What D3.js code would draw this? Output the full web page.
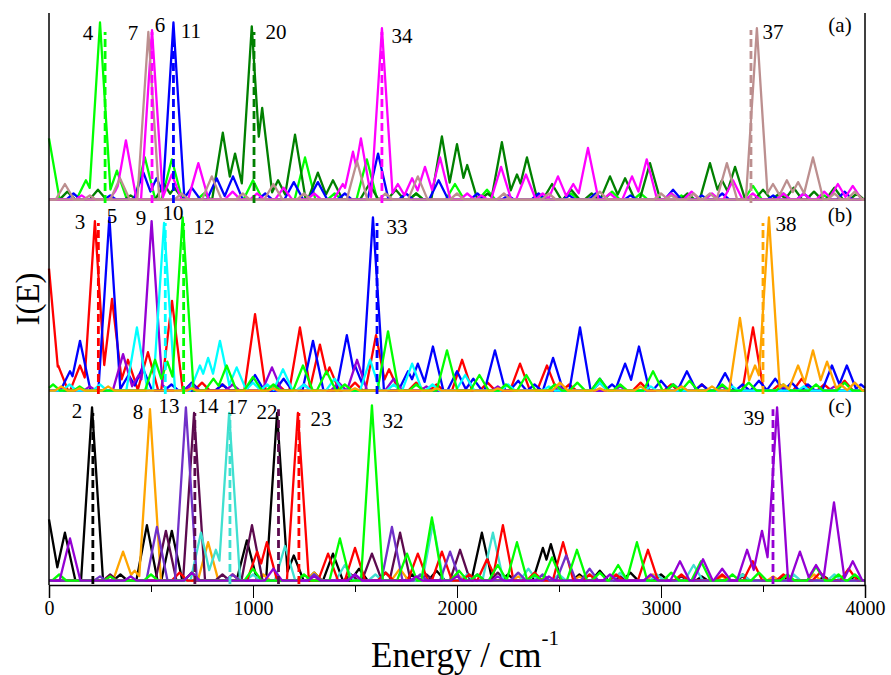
<!DOCTYPE html>
<html>
<head>
<meta charset="utf-8">
<script src="https://cdnjs.cloudflare.com/ajax/libs/d3/7.8.5/d3.min.js"></script>
<style>
  body { margin: 0; background: #fff; }
  svg text { font-family: "Liberation Serif", "Times New Roman", Times, "DejaVu Serif", serif; }
</style>
</head>
<body>
<div id="chart"></div>
<script>
// peak lists [energy cm-1, relative intensity], one per mode

// panel (a)
let s4 = [[0, 0.34], [181, 0.12], [250, 0.95], [333, 0.17], [470, 0.24], [602, 0.23], [760, 0.05], [1000, 0.12], [1255, 0.24], [1400, 0.05], [1558, 0.23], [1800, 0.05], [1990, 0.1], [2147, 0.07], [2400, 0.04], [2560, 0.05], [2760, 0.06], [2900, 0.05], [3100, 0.04], [3451, 0.09], [3600, 0.05], [3800, 0.04]];
let s6 = [[160, 0.04], [337, 0.08], [377, 0.33], [505, 0.91], [602, 0.15], [732, 0.21], [900, 0.06], [1020, 0.05], [1150, 0.08], [1300, 0.05]];
let s7 = [[78, 0.1], [200, 0.04], [348, 0.13], [487, 0.9], [650, 0.05], [798, 0.14], [950, 0.05], [1100, 0.1], [1250, 0.05], [1510, 0.22], [1650, 0.05], [1808, 0.14], [2000, 0.05], [2230, 0.05], [2450, 0.05], [2700, 0.06], [3000, 0.05], [3050, 0.04]];
let s11 = [[120, 0.05], [300, 0.04], [463, 0.16], [527, 0.13], [610, 0.95], [700, 0.08], [822, 0.13], [902, 0.14], [1060, 0.05], [1200, 0.11], [1318, 0.11], [1450, 0.05], [1613, 0.26], [1750, 0.05], [1910, 0.12], [2100, 0.05], [2250, 0.04], [2400, 0.05], [2550, 0.04], [2680, 0.05], [2850, 0.04], [3059, 0.07], [3200, 0.04], [3300, 0.05], [3550, 0.04], [3700, 0.05], [3900, 0.06]];
let s20 = [[90, 0.06], [240, 0.07], [400, 0.04], [565, 0.1], [615, 0.08], [852, 0.37], [912, 0.26], [994, 0.93], [1045, 0.5], [1123, 0.12], [1206, 0.36], [1318, 0.16], [1392, 0.12], [1570, 0.1], [1700, 0.07], [1800, 0.05], [1926, 0.35], [2000, 0.31], [2050, 0.2], [2150, 0.05], [2220, 0.32], [2294, 0.15], [2343, 0.24], [2466, 0.1], [2560, 0.07], [2660, 0.05], [2750, 0.14], [2824, 0.13], [2946, 0.21], [3050, 0.05], [3130, 0.05], [3240, 0.21], [3299, 0.12], [3363, 0.19], [3500, 0.07], [3580, 0.05], [3650, 0.08], [3750, 0.06], [3850, 0.08], [3960, 0.05]];
let s34 = [[1440, 0.1], [1490, 0.27], [1529, 0.34], [1632, 0.92], [1710, 0.1], [1780, 0.13], [1843, 0.19], [1917, 0.24], [2050, 0.05], [2120, 0.04], [2216, 0.19], [2338, 0.15], [2420, 0.05], [2495, 0.14], [2570, 0.1], [2642, 0.29], [2750, 0.05], [2858, 0.14], [2930, 0.23], [3050, 0.05], [3150, 0.06], [3250, 0.05], [3353, 0.12], [3450, 0.05], [3600, 0.05], [3700, 0.05], [3800, 0.06], [3867, 0.1], [3940, 0.09]];
let s37 = [[3160, 0.05], [3240, 0.05], [3323, 0.21], [3470, 0.92], [3549, 0.1], [3617, 0.12], [3672, 0.11], [3745, 0.24], [3850, 0.05], [3950, 0.06]];

// panel (b)
let s3 = [[0, 0.66], [45, 0.15], [152, 0.15], [225, 0.91], [309, 0.5], [387, 0.18], [485, 0.22], [603, 0.49], [750, 0.06], [850, 0.05], [1010, 0.42], [1120, 0.05], [1230, 0.35], [1328, 0.26], [1375, 0.14], [1500, 0.06], [1603, 0.31], [1667, 0.13], [1800, 0.06], [1900, 0.05], [2025, 0.18], [2150, 0.06], [2309, 0.16], [2441, 0.15], [2550, 0.05], [2700, 0.06], [2900, 0.06], [3050, 0.05], [3200, 0.05], [3451, 0.35], [3580, 0.05], [3690, 0.08], [3800, 0.05], [3900, 0.07]];
let s5 = [[103, 0.12], [152, 0.28], [296, 0.93], [390, 0.1], [458, 0.14], [600, 0.05], [700, 0.06], [850, 0.05], [1010, 0.1], [1150, 0.08]];
let s9 = [[60, 0.03], [200, 0.04], [363, 0.21], [440, 0.1], [503, 0.91], [545, 0.06], [700, 0.05], [900, 0.05], [1093, 0.14], [1250, 0.05], [1420, 0.06], [1510, 0.18], [1690, 0.08], [1850, 0.04], [2200, 0.04], [2500, 0.04], [2800, 0.04], [3100, 0.04], [3300, 0.04], [3600, 0.04], [3850, 0.04]];
let s10 = [[100, 0.05], [250, 0.05], [431, 0.35], [564, 0.9], [740, 0.15], [780, 0.19], [838, 0.28], [920, 0.14], [1000, 0.06], [1070, 0.05], [1147, 0.13], [1250, 0.05], [1400, 0.08], [1574, 0.18], [1690, 0.05], [1780, 0.16], [1880, 0.05], [2040, 0.1], [2250, 0.05], [2450, 0.04], [2700, 0.06], [2950, 0.04], [3350, 0.04], [3700, 0.04]];
let s12 = [[20, 0.05], [150, 0.04], [520, 0.18], [580, 0.17], [655, 0.93], [806, 0.08], [871, 0.15], [1000, 0.09], [1100, 0.05], [1245, 0.15], [1360, 0.12], [1450, 0.05], [1662, 0.33], [1800, 0.05], [1951, 0.23], [2110, 0.1], [2240, 0.05], [2340, 0.1], [2480, 0.05], [2590, 0.06], [2700, 0.08], [2800, 0.05], [2961, 0.12], [3060, 0.05], [3140, 0.07], [3300, 0.05], [3430, 0.06], [3600, 0.05], [3760, 0.05], [3900, 0.06]];
let s33 = [[1294, 0.28], [1460, 0.31], [1500, 0.15], [1588, 0.93], [1760, 0.12], [1808, 0.16], [1882, 0.25], [2000, 0.12], [2080, 0.08], [2186, 0.23], [2300, 0.07], [2380, 0.05], [2471, 0.19], [2603, 0.35], [2700, 0.08], [2760, 0.05], [2824, 0.16], [2892, 0.25], [3000, 0.07], [3060, 0.05], [3127, 0.12], [3200, 0.05], [3314, 0.11], [3400, 0.05], [3480, 0.07], [3560, 0.08], [3640, 0.06], [3720, 0.05], [3838, 0.15], [3911, 0.15], [3980, 0.05]];
let s38 = [[60, 0.04], [150, 0.03], [290, 0.04], [700, 0.03], [1100, 0.03], [1500, 0.03], [1900, 0.03], [2200, 0.03], [2505, 0.06], [2700, 0.03], [2900, 0.04], [3100, 0.04], [3250, 0.04], [3387, 0.4], [3461, 0.15], [3529, 0.93], [3600, 0.05], [3672, 0.15], [3745, 0.23], [3814, 0.17], [3880, 0.05], [3950, 0.06]];

// panel (c)
let s2 = [[0, 0.34], [78, 0.27], [211, 0.93], [350, 0.05], [480, 0.31], [602, 0.28], [700, 0.06], [970, 0.23], [1300, 0.06], [1392, 0.16], [1520, 0.08], [1650, 0.06], [1780, 0.05], [1900, 0.07], [2000, 0.05], [2122, 0.27], [2250, 0.05], [2421, 0.19], [2460, 0.21], [2600, 0.05], [2700, 0.07], [2850, 0.06], [3000, 0.05], [3200, 0.04], [3400, 0.05], [3600, 0.04], [3800, 0.04], [3950, 0.04]];
let s8 = [[363, 0.17], [420, 0.07], [495, 0.92], [780, 0.22], [1050, 0.05], [1300, 0.06], [1480, 0.05], [1720, 0.08], [2000, 0.05], [2300, 0.04], [2600, 0.04], [2960, 0.05], [3300, 0.04], [3550, 0.04], [3750, 0.05]];
let s13 = [[250, 0.04], [529, 0.3], [671, 0.93], [900, 0.05], [1300, 0.05], [1500, 0.05], [1681, 0.3], [1820, 0.05], [1966, 0.17], [2100, 0.05], [2300, 0.06], [2420, 0.05], [2535, 0.15], [2650, 0.08]];
let s14 = [[300, 0.05], [573, 0.28], [711, 0.9], [850, 0.05], [995, 0.31], [1300, 0.05], [1480, 0.05], [1583, 0.16], [1721, 0.27], [1850, 0.05], [2015, 0.18], [2200, 0.06], [2500, 0.04], [2800, 0.04], [3100, 0.04], [3400, 0.04]];
let s17 = [[400, 0.04], [745, 0.27], [818, 0.18], [883, 0.9], [1000, 0.05], [1157, 0.2], [1300, 0.05], [1450, 0.1], [1600, 0.05], [1882, 0.32], [2050, 0.05], [2176, 0.27], [2350, 0.08], [2500, 0.05], [2650, 0.05], [2800, 0.06], [2980, 0.05], [3160, 0.1], [3400, 0.05], [3650, 0.05], [3850, 0.05]];
let s22 = [[1118, 0.9], [1200, 0.15]];
let s23 = [[300, 0.04], [640, 0.06], [900, 0.05], [1020, 0.17], [1068, 0.22], [1220, 0.9], [1368, 0.16], [1500, 0.19], [1650, 0.06], [1808, 0.16], [1926, 0.17], [2060, 0.05], [2147, 0.13], [2225, 0.31], [2380, 0.06], [2520, 0.22], [2650, 0.05], [2780, 0.05], [2936, 0.18], [3100, 0.05], [3300, 0.05], [3450, 0.12], [3600, 0.05], [3780, 0.06], [3920, 0.08]];
let s32 = [[50, 0.05], [300, 0.04], [500, 0.05], [700, 0.06], [1000, 0.08], [1250, 0.05], [1426, 0.24], [1583, 0.94], [1755, 0.16], [1877, 0.35], [2010, 0.07], [2100, 0.05], [2200, 0.1], [2294, 0.22], [2380, 0.05], [2466, 0.14], [2588, 0.18], [2700, 0.06], [2790, 0.1], [2882, 0.22], [3050, 0.06], [3196, 0.12], [3350, 0.05], [3480, 0.06], [3620, 0.05], [3760, 0.09], [3870, 0.05], [3950, 0.05]];
let s39 = [[103, 0.24], [400, 0.04], [700, 0.06], [1100, 0.08], [1300, 0.04], [1500, 0.05], [1800, 0.04], [2000, 0.04], [2200, 0.04], [2450, 0.04], [2750, 0.05], [2950, 0.05], [3093, 0.12], [3206, 0.13], [3300, 0.08], [3422, 0.18], [3495, 0.28], [3569, 0.93], [3681, 0.17], [3760, 0.1], [3848, 0.43], [3940, 0.12]];

// modes drawn in each panel (drawing order)
let modesA = [4, 20, 11, 6, 34, 7, 37];
let modesB = [3, 5, 33, 9, 10, 12, 38];
let modesC = [2, 22, 8, 14, 17, 23, 13, 32, 39];

// dashed markers [mode, energy, height]
let dashes = [
  [4, 275, 0.9], [6, 505, 0.9], [11, 610, 0.9], [20, 1005, 0.9], [34, 1632, 0.9], [37, 3441, 0.91],
  [3, 242, 0.9], [10, 570, 0.9], [12, 660, 0.9], [33, 1608, 0.9], [38, 3500, 0.9],
  [2, 215, 0.9], [14, 715, 0.9], [17, 887, 0.9], [22, 1125, 0.92], [23, 1225, 0.9], [39, 3549, 0.92]
];

// mode number labels [mode, energy, height]
let labels = [
  [4, 191, 0.895], [7, 412, 0.895], [6, 544, 0.937], [11, 696, 0.905], [20, 1113, 0.9], [34, 1730, 0.879], [37, 3549, 0.9],
  [3, 152, 0.905], [5, 309, 0.937], [9, 451, 0.926], [10, 608, 0.953], [12, 760, 0.879], [33, 1706, 0.879], [38, 3613, 0.895],
  [2, 137, 0.911], [8, 436, 0.905], [13, 588, 0.937], [14, 779, 0.937], [17, 922, 0.932], [22, 1069, 0.905], [23, 1333, 0.868], [32, 1686, 0.858], [39, 3456, 0.874]
];

let panelNames = ["(a)", "(b)", "(c)"];
let xTicks = [0, 1000, 2000, 3000, 4000];
let xMinor = [500, 1500, 2500, 3500];

let spectra = {2: s2, 3: s3, 4: s4, 5: s5, 6: s6, 7: s7, 8: s8, 9: s9, 10: s10, 11: s11, 12: s12, 13: s13, 14: s14,
  17: s17, 20: s20, 22: s22, 23: s23, 32: s32, 33: s33, 34: s34, 37: s37, 38: s38, 39: s39};

let color = {
  4: "#00ff00", 6: "#ff00ff", 7: "#bc8f8f", 11: "#0000ff", 20: "#008000", 34: "#ff00ff", 37: "#bc8f8f",
  3: "#ff0000", 5: "#0000ff", 9: "#9400d3", 10: "#00ffff", 12: "#00ff00", 33: "#0000ff", 38: "#ffa500",
  2: "#000000", 8: "#ffa500", 13: "#7030c8", 14: "#5c0a4e", 17: "#40e0d0", 22: "#000000", 23: "#ff0000", 32: "#00ff00", 39: "#9400d3"
};
let dashColor = Object.assign({}, color, {22: "#5c0a4e"});

let FONT = '"Liberation Serif", "Times New Roman", Times, "DejaVu Serif", serif';
let W = 891, H = 675;
let left = 49, right = 865;
let panels = [
  { top: 13, base: 203, modes: modesA },
  { top: 203, base: 394, modes: modesB },
  { top: 394, base: 584, modes: modesC }
];

let svg = d3.select("#chart").append("svg")
  .attr("width", W)
  .attr("height", H)
  .style("font-family", FONT);

let x = d3.scaleLinear().domain([0, 4000]).range([left, right]);

// triangle peaks -> upper envelope polyline
let HALF = 55, BASE = 0.018;
function envelope(peaks) {
  let s = peaks.slice().sort((a, b) => a[0] - b[0]);
  let xs = [0, 4000];
  s.forEach(p => {
    let d = HALF * (1 - BASE / p[1]);
    xs.push(p[0], p[0] - d, p[0] + d);
  });
  for (let i = 0; i < s.length - 1; i++) {
    let p = s[i], q = s[i + 1];
    let a = p[1] / HALF, c = q[1] / HALF;
    let xi = (p[1] + a * p[0] - q[1] + c * q[0]) / (a + c);
    if (xi > p[0] && xi < q[0]) xs.push(xi);
  }
  xs = xs.filter(v => v >= 0 && v <= 4000).sort((a, b) => a - b);
  return xs.map(v => [v, Math.max(BASE, d3.max(s, p => p[1] * (1 - Math.abs(v - p[0]) / HALF)))]);
}

panels.forEach(function (pn, i) {
  let y = d3.scaleLinear().domain([0, 1]).range([pn.base, pn.base - 190]);
  let g = svg.append("g");

  let line = d3.line()
    .x(d => x(d[0]))
    .y(d => y(d[1]));

  pn.modes.forEach(function (m) {
    g.append("path")
      .datum(envelope(spectra[m]))
      .attr("fill", "none")
      .attr("stroke", color[m])
      .attr("stroke-width", 2.3)
      .attr("stroke-linejoin", "round")
      .attr("d", line);
  });

  dashes.filter(d => pn.modes.includes(d[0])).forEach(function (d) {
    g.append("line")
      .attr("x1", x(d[1])).attr("x2", x(d[1]))
      .attr("y1", y(0)).attr("y2", y(d[2]))
      .attr("stroke", dashColor[d[0]])
      .attr("stroke-width", 2.8)
      .attr("stroke-dasharray", "8,4");
  });

  labels.filter(d => pn.modes.includes(d[0])).forEach(function (d) {
    g.append("text")
      .attr("x", x(d[1]))
      .attr("y", y(d[2]))
      .attr("text-anchor", "middle")
      .attr("dominant-baseline", "central")
      .style("font-family", FONT)
      .style("font-size", "21px")
      .text(d[0]);
  });

  g.append("text")
    .attr("x", 840)
    .attr("y", pn.top + 12)
    .attr("text-anchor", "middle")
    .attr("dominant-baseline", "central")
    .style("font-family", FONT)
    .style("font-size", "21px")
    .text(panelNames[i]);
});

// frame sides
svg.append("line")
  .attr("x1", left).attr("x2", left).attr("y1", 13).attr("y2", 585)
  .attr("stroke", "#000").attr("stroke-width", 1.5);
svg.append("line")
  .attr("x1", right).attr("x2", right).attr("y1", 13).attr("y2", 585)
  .attr("stroke", "#000").attr("stroke-width", 1.5);

// bottom axis
let axisMajor = svg.append("g")
  .attr("transform", "translate(0,585)")
  .call(d3.axisBottom(x).tickValues(xTicks).tickSize(13).tickPadding(3).tickFormat(d3.format("d")));
axisMajor.attr("font-family", null);
axisMajor.select(".domain").attr("stroke-width", 1.5);
axisMajor.selectAll("text").style("font-size", "20px").style("font-family", FONT);

svg.append("g")
  .attr("transform", "translate(0,585)")
  .call(d3.axisBottom(x).tickValues(xMinor).tickSize(7).tickFormat(""))
  .select(".domain").remove();

// axis titles
svg.append("text")
  .attr("transform", "translate(28,299) rotate(-90)")
  .attr("text-anchor", "middle")
  .attr("dominant-baseline", "central")
  .style("font-family", FONT)
  .style("font-size", "33px")
  .text("I(E)");

let title = svg.append("text")
  .attr("x", 465)
  .attr("y", 667)
  .attr("text-anchor", "middle")
  .style("font-family", FONT)
  .style("font-size", "35px");
title.append("tspan").text("Energy / cm");
title.append("tspan")
  .attr("dy", -22)
  .style("font-size", "21px")
  .text("-1");
</script>
</body>
</html>
